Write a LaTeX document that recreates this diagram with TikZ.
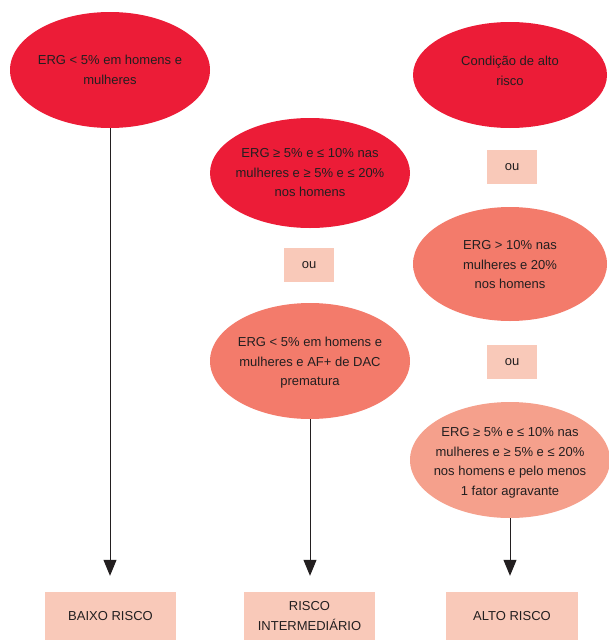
\documentclass[tikz,border=0pt]{standalone}
\usepackage{fontspec}
\setmainfont{Liberation Sans}
\usetikzlibrary{shapes.geometric,arrows.meta}
\definecolor{vermelho}{HTML}{EC1C37}
\definecolor{salmao}{HTML}{F37B6B}
\definecolor{salmaoclaro}{HTML}{F5A08C}
\definecolor{caixa}{HTML}{F9C9B9}
\definecolor{tinta}{HTML}{231F20}
\tikzset{
  elipse/.style={ellipse, inner sep=0pt, minimum width=200pt, minimum height=116pt},
  texto/.style={align=center, text=tinta, font=\fontsize{13}{19.5}\selectfont},
  ou/.style={texto, fill=caixa, minimum width=50pt, minimum height=34pt, inner sep=0pt},
  risco/.style={texto, fill=caixa, minimum width=131pt, minimum height=48pt, inner sep=0pt},
  seta/.style={draw=tinta, line width=1pt, -{Triangle[width=13pt,length=16pt]}, shorten >=16pt}
}
\begin{document}
\begin{tikzpicture}[x=1pt,y=-1pt]
% 608 x 640 = size of the page, y runs downwards
\useasboundingbox (0,0) rectangle (608,640);
% left column
\node[elipse, fill=vermelho] (e1) at (110,70) {};
\node[texto] (t1) at (e1) {ERG < 5\% em homens e\\mulheres};
% middle column
\node[elipse, fill=vermelho, minimum height=110pt] (e2) at (310,173) {};
\node[texto] (t2) at (e2) {ERG ≥ 5\% e ≤ 10\% nas\\mulheres e ≥ 5\% e ≤ 20\%\\nos homens};
\node[ou] (ou1) at (309,265) {ou};
\node[elipse, fill=salmao] (e3) at (310,361) {};
\node[texto] (t3) at ([yshift=-2pt]e3.center) {ERG < 5\% em homens e\\mulheres e AF+ de DAC\\prematura};
% right column
\node[elipse, fill=vermelho, minimum width=194pt, minimum height=106pt] (e4) at (510,75) {};
\node[texto] (t4) at ([yshift=4pt]e4.center) {Condição de alto\\risco};
\node[ou] (ou2) at (512,167) {ou};
\node[elipse, fill=salmao, minimum width=194pt, minimum height=114pt] (e5) at (510,264) {};
\node[texto] (t5) at ([yshift=-1pt]e5.center) {ERG > 10\% nas\\mulheres e 20\%\\nos homens};
\node[ou] (ou3) at (512,362) {ou};
\node[elipse, fill=salmaoclaro] (e6) at (510,460) {};
\node[texto] (t6) at ([yshift=-3pt]e6.center) {ERG ≥ 5\% e ≤ 10\% nas\\mulheres e ≥ 5\% e ≤ 20\%\\nos homens e pelo menos\\1 fator agravante};
% result boxes, cut at the bottom edge
\node[risco] (baixo) at (110.5,616) {BAIXO RISCO};
\node[risco] (inter) at (309.5,616) {RISCO\\INTERMEDIÁRIO};
\node[risco, minimum width=132pt] (alto) at (512,616) {ALTO RISCO};
% 16 = gap between arrow tip and box
\foreach \de/\para in {e1/baixo,e3/inter,e6/alto}
  \draw[seta] (\de.south) -- (\de.south |- \para.north);
\end{tikzpicture}
\end{document}
